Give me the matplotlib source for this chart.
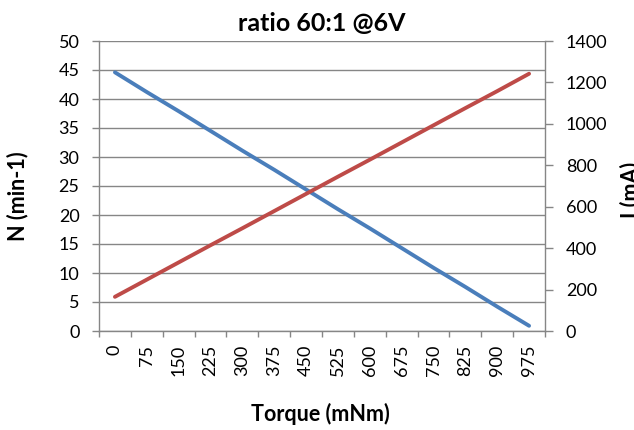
import numpy as np
import matplotlib
matplotlib.use("Agg")
import matplotlib.pyplot as plt
from matplotlib.ticker import FixedLocator, MultipleLocator

plt.rcParams['font.family'] = ['Lato', 'DejaVu Sans']

torque = [0, 75, 150, 225, 300, 375, 450, 525, 600, 675, 750, 825, 900, 975]
speed = [44.6, 41.2, 37.9, 34.5, 31.1, 27.8, 24.4, 21.0, 17.7, 14.3, 10.9, 7.6, 4.2, 0.9]
current = [165, 248, 331, 414, 496, 579, 662, 745, 827, 910, 993, 1076, 1158, 1242]

grid_col = '#868686'
blue = '#4A7EBB'
red = '#BE4B48'

W, H = 634, 430
fig = plt.figure(figsize=(W / 100, H / 100), dpi=100)
left, right, top, bottom = 99, 545, 41, 331
ax = fig.add_axes([left / W, 1 - bottom / H, (right - left) / W, (bottom - top) / H])
ax2 = ax.twinx()

x = np.arange(len(torque))
ax.plot(x, speed, color=blue, lw=2.8, solid_capstyle='round', zorder=3)
ax2.plot(x, current, color=red, lw=2.8, solid_capstyle='round', zorder=3)

ax.set_xlim(-0.5, len(torque) - 0.5)
ax.set_ylim(0, 50)
ax2.set_ylim(0, 1400)
ax.yaxis.set_major_locator(MultipleLocator(5))
ax2.yaxis.set_major_locator(MultipleLocator(200))

tick_fs = 13
ax.set_xticks(x)
ax.set_xticklabels([str(t) for t in torque], rotation=90, fontsize=tick_fs)
ax.xaxis.set_minor_locator(FixedLocator(np.arange(-0.5, len(torque), 1.0)))
ax.tick_params(axis='x', which='major', length=0, pad=10)
ax.tick_params(axis='x', which='minor', length=4, color=grid_col, width=1)
ax.tick_params(axis='y', length=5, color=grid_col, width=1, labelsize=tick_fs, pad=9)
ax2.tick_params(axis='y', length=6, color=grid_col, width=1, labelsize=tick_fs, pad=9)

ax.grid(axis='y', color=grid_col, lw=1)
ax.set_axisbelow(True)
for a in (ax, ax2):
    for s in a.spines.values():
        s.set_visible(False)
ax.spines['left'].set_visible(True)
ax.spines['bottom'].set_visible(True)
ax2.spines['right'].set_visible(True)
for s in (ax.spines['left'], ax.spines['bottom'], ax2.spines['right']):
    s.set_color(grid_col)
    s.set_linewidth(1)

label_fs = 15.5
fig.text(322 / W, 1 - 24 / H, 'ratio 60:1 @6V', fontsize=18, fontweight='bold',
         ha='center', va='center')
fig.text(320 / W, 1 - 414 / H, 'Torque (mNm)', fontsize=label_fs, fontweight='bold',
         ha='center', va='center')
fig.text(18 / W, 1 - 196 / H, 'N (min-1)', rotation=90, fontsize=label_fs,
         fontweight='bold', ha='center', va='center')
fig.text(620 / W, 1 - 190 / H, 'I (mA)', rotation=90, fontsize=label_fs,
         fontweight='bold', ha='left', va='center')

fig.savefig('out.png', dpi=100)
